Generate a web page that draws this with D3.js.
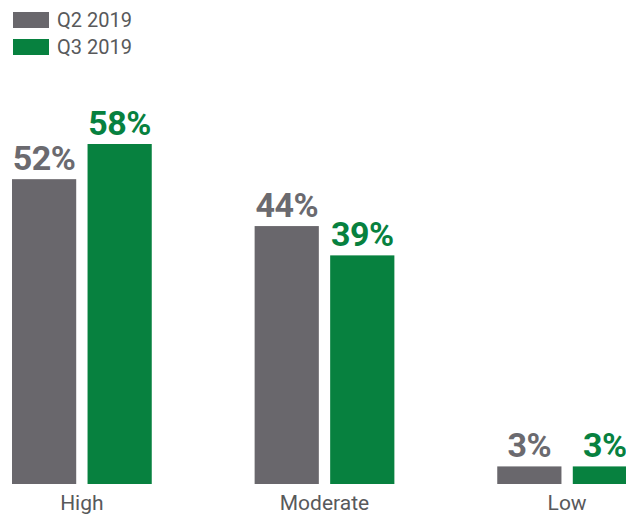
<!DOCTYPE html>
<html>
<head>
<meta charset="utf-8">
<script src="https://cdn.jsdelivr.net/npm/d3@7"></script>
<style>
  html, body { margin: 0; padding: 0; background: #fff; }
  svg { display: block; font-family: Roboto, "Noto Sans", sans-serif; }
</style>
</head>
<body>
<svg id="chart" width="626" height="517"></svg>
<script>
// Risk level categories and quarterly shares (%)
const categories = ["High", "Moderate", "Low"];
const seriesNames = ["Q2 2019", "Q3 2019"];
const q2Values = [52, 44, 3];
const q3Values = [58, 39, 3];
const seriesColors = ["#69676c", "#07813f"];
const labelColors = ["#6b6a6f", "#07813f"];

const rows = categories.map((c, i) => ({ category: c, values: [q2Values[i], q3Values[i]] }));

const svg = d3.select("#chart");
const baseline = 484;

const y = d3.scaleLinear().domain([0, 58]).range([baseline, 144]);

const x0 = d3.scaleBand()
  .domain(categories)
  .range([12, 637])
  .paddingInner(0.424)
  .paddingOuter(0);

const x1 = d3.scaleBand()
  .domain(seriesNames)
  .range([0, x0.bandwidth()])
  .paddingInner(0.15)
  .paddingOuter(0);

const groups = svg.append("g").selectAll("g")
  .data(rows)
  .join("g")
  .attr("transform", d => `translate(${x0(d.category)},0)`);

const bars = groups.selectAll("g.bar")
  .data(d => d.values.map((v, i) => ({ series: seriesNames[i], value: v, idx: i })))
  .join("g")
  .attr("class", "bar");

bars.append("rect")
  .attr("x", d => x1(d.series))
  .attr("y", d => y(d.value))
  .attr("width", x1.bandwidth())
  .attr("height", d => baseline - y(d.value))
  .attr("fill", d => seriesColors[d.idx]);

bars.append("text")
  .attr("x", d => x1(d.series) + x1.bandwidth() / 2)
  .attr("y", d => y(d.value) - 9)
  .attr("text-anchor", "middle")
  .attr("font-size", 34)
  .attr("font-weight", 700)
  .attr("letter-spacing", -0.5)
  .attr("fill", d => labelColors[d.idx])
  .text(d => d.value + "%");

// Category labels under each group
svg.append("g").selectAll("text")
  .data(categories)
  .join("text")
  .attr("x", d => x0(d) + x0.bandwidth() / 2)
  .attr("y", 510)
  .attr("text-anchor", "middle")
  .attr("font-size", 21)
  .attr("fill", "#58595b")
  .text(d => d);

// Legend
const legend = svg.append("g").selectAll("g")
  .data(seriesNames)
  .join("g")
  .attr("transform", (d, i) => `translate(13, ${12 + i * 27})`);

legend.append("rect")
  .attr("width", 36)
  .attr("height", 16)
  .attr("fill", (d, i) => seriesColors[i]);

legend.append("text")
  .attr("x", 44)
  .attr("y", 15)
  .attr("font-size", 20)
  .attr("fill", "#58595b")
  .text(d => d);
</script>
</body>
</html>
